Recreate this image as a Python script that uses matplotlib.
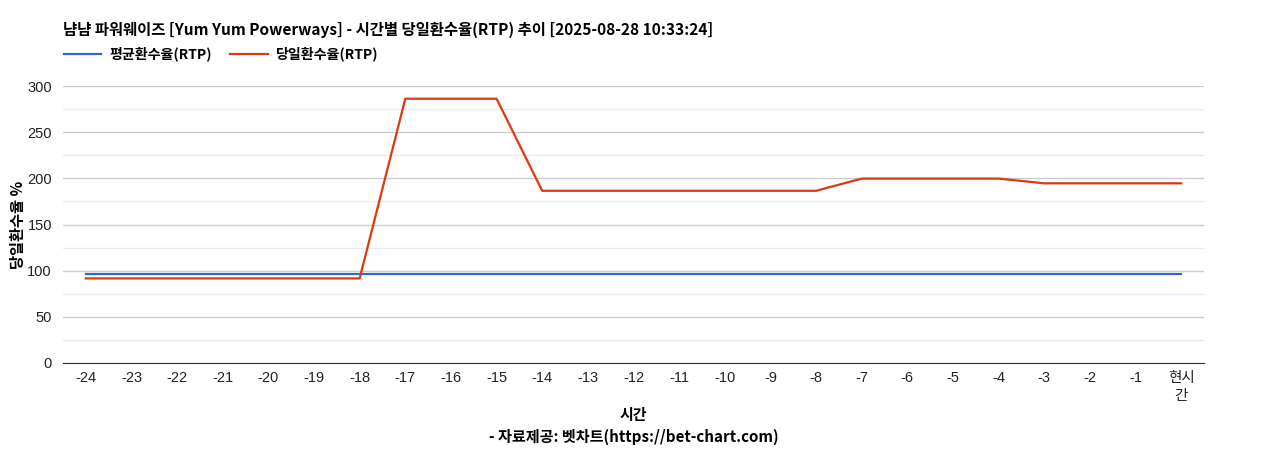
import matplotlib
matplotlib.use("Agg")
import matplotlib.pyplot as plt
from matplotlib.ticker import MultipleLocator

plt.rcParams['font.family'] = ['Liberation Sans', 'Noto Sans CJK KR', 'DejaVu Sans']

categories = ['-24', '-23', '-22', '-21', '-20', '-19', '-18', '-17', '-16', '-15',
              '-14', '-13', '-12', '-11', '-10', '-9', '-8', '-7', '-6', '-5',
              '-4', '-3', '-2', '-1', '현시\n간']
avg_rtp = [96.7] * 25
day_rtp = [91.6, 91.6, 91.6, 91.6, 91.6, 91.6, 91.6,
           286.2, 286.2, 286.2,
           186.5, 186.5, 186.5, 186.5, 186.5, 186.5, 186.5,
           199.7, 199.7, 199.7, 199.7,
           194.6, 194.6, 194.6, 194.6]
series_names = ['평균환수율(RTP)', '당일환수율(RTP)']
title = '냠냠 파워웨이즈 [Yum Yum Powerways] - 시간별 당일환수율(RTP) 추이 [2025-08-28 10:33:24]'

kfont = ['Noto Sans CJK KR', 'DejaVu Sans']

fig = plt.figure(figsize=(12.68, 4.5), dpi=100)
ax = fig.add_axes([63/1268, 1-363/450, (1204-63)/1268, (363-86)/450])

x = list(range(len(categories)))
ax.plot(x, avg_rtp, color='#3366cc', lw=1.6, label=series_names[0], zorder=3)
ax.plot(x, day_rtp, color='#dc3912', lw=1.6, label=series_names[1], zorder=4)

ax.set_xlim(-0.5, len(categories) - 0.5)
ax.set_ylim(0, 300)
ax.yaxis.set_major_locator(MultipleLocator(50))
ax.yaxis.set_minor_locator(MultipleLocator(25))
ax.grid(which='major', axis='y', color='#cccccc', lw=1)
ax.grid(which='minor', axis='y', color='#ebebeb', lw=1)
ax.set_axisbelow(True)
for s in ['top', 'right', 'left']:
    ax.spines[s].set_visible(False)
ax.spines['bottom'].set_color('#333333')
ax.tick_params(axis='both', which='both', length=0)
ax.tick_params(axis='y', pad=8, labelsize=10.5, labelcolor='#222222')
ax.tick_params(axis='x', pad=6, labelsize=10.5, labelcolor='#222222')
ax.set_xticks(x)
ax.set_xticklabels(categories, va='top', linespacing=1.35)
for lbl in ax.get_xticklabels():
    lbl.set_family(['Liberation Sans', 'Noto Sans CJK KR'])

ax.set_ylabel('당일환수율 %', family=kfont, fontweight='bold', fontsize=11, labelpad=12)
ax.yaxis.set_label_coords(-37/1141, 0.5)

fig.text(63/1268, 1-30/450, title, family=kfont, fontweight='bold', fontsize=11.1,
         va='center', ha='left', color='#000000')

leg = fig.legend(loc='center left', bbox_to_anchor=(58/1268, 1-54/450), ncol=2, frameon=False,
                 prop={'family': kfont, 'weight': 'bold', 'size': 10.1},
                 handlelength=2.7, handletextpad=0.6, columnspacing=1.25, borderaxespad=0)

fig.text((63+1204)/2/1268, 1-415/450, '시간', family=kfont, fontweight='bold', fontsize=10.8,
         ha='center', va='center')
fig.text((63+1204)/2/1268, 1-437/450, '- 자료제공: 벳차트(https://bet-chart.com)', family=kfont,
         fontweight='bold', fontsize=10.9, ha='center', va='center')

fig.savefig('out.png', dpi=100)
